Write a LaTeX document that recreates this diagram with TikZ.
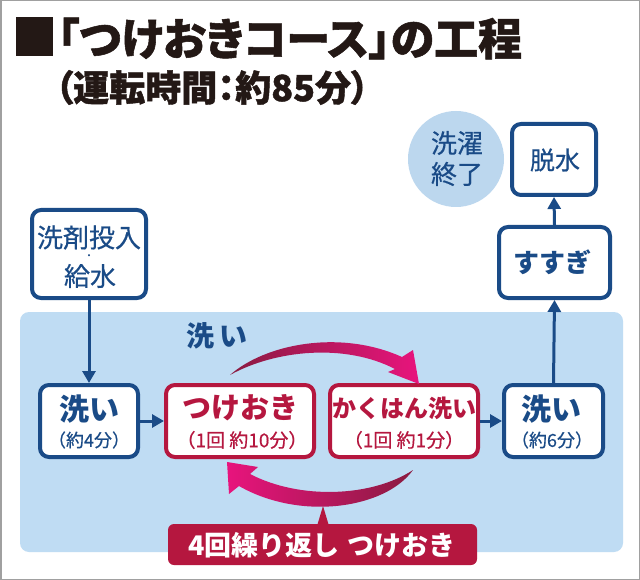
\documentclass[tikz,border=0pt]{standalone}
\usepackage{fontspec}
\setmainfont{Noto Sans CJK JP}
\newfontfamily\jpp{Noto Sans CJK JP}[RawFeature=+palt, BoldFeatures={FakeBold=1.2}]
\newfontfamily\jpm{Noto Sans CJK JP}[FakeBold=0.5]
\usetikzlibrary{arrows.meta,shapes.geometric}
\definecolor{navy}{RGB}{26,75,135}
\definecolor{crim}{RGB}{181,23,63}
\definecolor{panelc}{RGB}{191,220,243}
\definecolor{circc}{RGB}{188,215,238}
\definecolor{pinkc}{RGB}{232,20,125}
\definecolor{dred}{RGB}{138,27,64}
\definecolor{midr}{RGB}{200,24,74}
\definecolor{titlec}{RGB}{35,24,21}
\definecolor{framec}{RGB}{160,160,160}
\newcommand{\fs}[1]{\fontsize{#1}{#1}\selectfont}
\tikzset{
  bbox/.style={draw=navy, line width=4pt, fill=white, rounded corners=9pt, inner sep=0pt},
  rbox/.style={bbox, draw=crim},
  txt/.style={inner sep=0pt, text=navy},
  rtxt/.style={inner sep=0pt, text=crim},
  flow/.style={draw=navy, line width=3pt, -{Triangle[width=13pt,length=12pt]}},
}
\begin{document}
\begin{tikzpicture}[x=1pt,y=-1pt]
\useasboundingbox (0,0) rectangle (640,580);
\fill[white] (0,0) rectangle (640,580);
\draw[framec, line width=1.5pt] (0.75,0.75) rectangle (639.25,579.25);

% title
\fill[titlec] (16,17) rectangle (53,56);
\node[anchor=west, inner sep=0pt, text=titlec] (title) at (57,38.5)
  {\fs{44}\jpp\bfseries 「つけおきコース」の工程};
\node[anchor=west, inner sep=0pt, text=titlec] (subtitle) at (55,87.5)
  {\fs{36}\jpp\bfseries （運転時間：約85分）};

% panel
\fill[panelc, rounded corners=9pt] (20,312) rectangle (623,552);
\node[inner sep=0pt, text=navy] (washlbl) at (217,336) {\fs{28}\bfseries 洗\hspace{5pt}い};

% end circle
\node[circle, fill=circc, minimum size=96pt, inner sep=0pt] (endc) at (456,159) {};
\node[txt] (endt1) at (457,143) {\fs{26}\jpm 洗濯};
\node[txt] (endt2) at (457,174) {\fs{26}\jpm 終了};

% boxes
\node[bbox, minimum width=114pt, minimum height=88pt] (feed) at (89,254) {};
\node[txt] (feedt1) at (89,237.5) {\fs{26}\jpm 洗剤投入};
\node[txt] (feedt2) at (89,257) {\fs{10}・};
\node[txt] (feedt3) at (90,276) {\fs{26}\jpm 給水};

\node[bbox, minimum width=98pt, minimum height=72pt] (wash1) at (89,421) {};
\node[txt] (wash1a) at (89,409) {\fs{30}\bfseries 洗い};
\node[txt] (wash1b) at (89,440) {\fs{18}\jpm （約4分）};

\node[rbox, minimum width=148pt, minimum height=72pt] (soak) at (240,421) {};
\node[rtxt] (soaka) at (240,408) {\fs{29}\bfseries つけおき};
\node[rtxt] (soakb) at (242,440) {\fs{19}\jpm （1回 約10分）};

\node[rbox, minimum width=148pt, minimum height=72pt] (agit) at (404,421) {};
\node[rtxt] (agita) at (404,408) {\fs{24}\bfseries かくはん洗い};
\node[rtxt] (agitb) at (404,440) {\fs{19}\jpm （1回 約1分）};

\node[bbox, minimum width=99pt, minimum height=72pt] (wash2) at (553.5,421) {};
\node[txt] (wash2a) at (551,409) {\fs{30}\bfseries 洗い};
\node[txt] (wash2b) at (552,440) {\fs{18}\jpm （約6分）};

\node[bbox, minimum width=111pt, minimum height=71pt] (rinse) at (554.5,262.5) {};
\node[txt] (rinset) at (552,262) {\fs{26}\bfseries すすぎ};

\node[bbox, minimum width=84pt, minimum height=71pt] (spin) at (554,159.5) {};
\node[txt] (spint) at (555,160) {\fs{25}\jpm 脱水};

% flow arrows
\draw[flow] (feed.south) -- (wash1.north);
\draw[flow] (wash1.east) -- (soak.west);
\draw[flow] (agit.east) -- (wash2.west);
\draw[flow] (wash2.north) -- (rinse.south);
\draw[flow] (rinse.north) -- (spin.south);

% curved arrows
\shade[left color=dred, middle color=midr, right color=pinkc]
  (230,375) .. controls (265,344) and (340,329) .. (402,357)
  -- (413,350) -- (419,384) -- (388,372) -- (395,369)
  .. controls (345,343) and (275,350) .. (230,375) -- cycle;
\shade[left color=pinkc, middle color=midr, right color=dred]
  (413,470) .. controls (385,509) and (300,521) .. (239,486)
  -- (229,494) -- (227,462) -- (258,467) -- (250,474)
  .. controls (300,500) and (372,497) .. (413,470) -- cycle;

% repeat label
\node[fill=crim, rounded corners=6pt, minimum width=309pt, minimum height=41pt, inner sep=0pt] (rep) at (322.5,544.5) {};
\fill[crim] (317,526) -- (323,506) -- (329,526) -- cycle;
\node[inner sep=0pt, text=white] (rept) at (322,545) {\fs{27}\bfseries 4回繰り返し\hspace{8pt}つけおき};
\end{tikzpicture}
\end{document}
